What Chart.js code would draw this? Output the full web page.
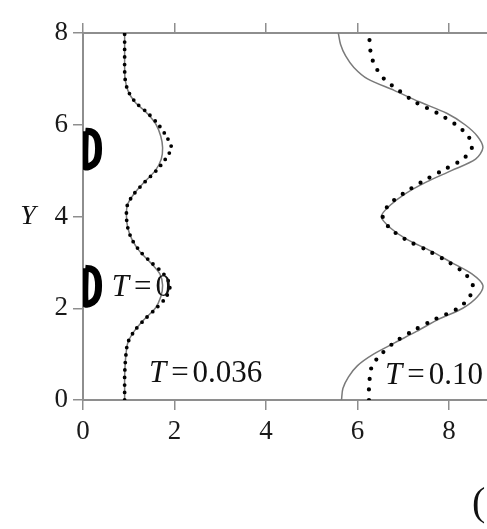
<!DOCTYPE html>
<html>
<head>
<meta charset="utf-8">
<script src="https://cdn.jsdelivr.net/npm/chart.js@4.4.0/dist/chart.umd.min.js"></script>
<style>
  html, body { margin: 0; padding: 0; background: #fff; }
  #wrap { width: 487px; height: 529px; }
</style>
</head>
<body>
<div id="wrap"><canvas id="profileChart" width="487" height="529"></canvas></div>
<script>
// Y levels shared by all four profiles
const yLevels = [0, 0.25, 0.5, 0.75, 1, 1.25, 1.5, 1.75, 2, 2.25, 2.5, 2.75, 3, 3.25, 3.5, 3.75,
                 4, 4.25, 4.5, 4.75, 5, 5.25, 5.5, 5.75, 6, 6.25, 6.5, 6.75, 7, 7.25, 7.5, 7.75, 8];

// T = 0.036 profile
const early_solid = [0.91, 0.91, 0.91, 0.92, 0.94, 0.98, 1.12, 1.33, 1.58, 1.70, 1.74, 1.68, 1.47, 1.23, 1.07, 0.98,
                     0.95, 0.97, 1.12, 1.34, 1.58, 1.71, 1.74, 1.70, 1.60, 1.40, 1.13, 0.98, 0.92, 0.91, 0.91, 0.91, 0.91];
const early_dots  = [0.91, 0.91, 0.91, 0.92, 0.94, 0.98, 1.12, 1.34, 1.60, 1.82, 1.90, 1.76, 1.49, 1.24, 1.07, 0.98,
                     0.95, 0.97, 1.12, 1.35, 1.60, 1.80, 1.93, 1.82, 1.65, 1.42, 1.14, 0.98, 0.92, 0.91, 0.91, 0.91, 0.91];

// T = 0.10 profile
const late_solid = [5.65, 5.68, 5.80, 6.00, 6.35, 6.82, 7.30, 7.75, 8.30, 8.62, 8.74, 8.50, 8.05, 7.60, 7.08, 6.72,
                    6.52, 6.72, 7.05, 7.50, 8.05, 8.58, 8.74, 8.62, 8.35, 7.95, 7.35, 6.80, 6.22, 5.92, 5.74, 5.63, 5.58];
const late_dots  = [6.25, 6.25, 6.27, 6.32, 6.52, 6.80, 7.20, 7.67, 8.20, 8.45, 8.52, 8.35, 8.00, 7.55, 7.05, 6.70,
                    6.55, 6.68, 7.00, 7.40, 7.85, 8.30, 8.50, 8.42, 8.15, 7.75, 7.25, 6.90, 6.58, 6.40, 6.30, 6.27, 6.25];

// half-disc outlines on the left wall
const discX  = [0.05, 0.16, 0.26, 0.32, 0.34, 0.32, 0.26, 0.16, 0.05, 0.05];
const discLo = [2.87, 2.86, 2.80, 2.68, 2.49, 2.30, 2.18, 2.11, 2.10, 2.87];
const discHi = [5.86, 5.85, 5.79, 5.67, 5.48, 5.29, 5.17, 5.10, 5.09, 5.86];

const xTicks = [0, 2, 4, 6, 8];
const yTicks = [0, 2, 4, 6, 8];

const labels = [
    { name: 'T', value: '0', x: 0.63, y: 2.44 },
    { name: 'T', value: '0.036', x: 1.44, y: 0.57 },
    { name: 'T', value: '0.10', x: 6.6, y: 0.52 }
];

const pairs = (xs, ys) => xs.map((x, i) => ({ x: x, y: ys[i] }));

const serif = '"Liberation Serif", "Times New Roman", Tinos, serif';
const axisGray = '#8e8e8e';

const annotate = {
    id: 'annotate',
    afterDatasetsDraw(chart) {
        const { ctx, scales: { x, y } } = chart;
        ctx.save();
        ctx.fillStyle = '#111';
        ctx.textBaseline = 'middle';
        ctx.textAlign = 'left';
        labels.forEach(l => {
            let px = x.getPixelForValue(l.x);
            const py = y.getPixelForValue(l.y);
            ctx.font = 'italic 31px ' + serif;
            ctx.fillText(l.name, px, py);
            px += ctx.measureText(l.name).width + 5;
            ctx.font = '31px ' + serif;
            ctx.fillText('=', px, py);
            px += ctx.measureText('=').width + 4;
            ctx.fillText(l.value, px, py);
        });
        // axis name
        ctx.font = 'italic 28px ' + serif;
        ctx.textAlign = 'center';
        ctx.fillText('Y', y.left + 28, y.getPixelForValue(4));
        // cut-off panel tag at lower right
        ctx.font = '40px ' + serif;
        ctx.textAlign = 'left';
        ctx.fillText('(', x.getPixelForValue(8.5), y.getPixelForValue(-2.27));
        ctx.restore();
    }
};

const ctx = document.getElementById('profileChart').getContext('2d');
new Chart(ctx, {
    type: 'scatter',
    data: {
        datasets: [
            // dotted ones first so they sit on top of the solid curves
            { data: pairs(early_dots, yLevels), showLine: true, pointRadius: 0, borderColor: '#000', borderWidth: 3.8, borderDash: [0, 7.5], borderCapStyle: 'round', tension: 0.3 },
            { data: pairs(late_dots, yLevels), showLine: true, pointRadius: 0, borderColor: '#000', borderWidth: 4.2, borderDash: [0, 10.5], borderCapStyle: 'round', tension: 0.3 },
            { data: pairs(early_solid, yLevels), showLine: true, pointRadius: 0, borderColor: '#7a7a7a', borderWidth: 1.5, tension: 0.3 },
            { data: pairs(late_solid, yLevels), showLine: true, pointRadius: 0, borderColor: '#7a7a7a', borderWidth: 1.5, tension: 0.3 },
            { data: pairs(discX, discLo), showLine: true, pointRadius: 0, borderColor: '#000', borderWidth: 7, tension: 0.3, clip: 0 },
            { data: pairs(discX, discHi), showLine: true, pointRadius: 0, borderColor: '#000', borderWidth: 7, tension: 0.3, clip: 0 }
        ]
    },
    options: {
        responsive: false,
        animation: false,
        layout: { padding: 0 },
        plugins: { legend: { display: false }, tooltip: { enabled: false } },
        scales: {
            x: {
                type: 'linear', position: 'bottom', min: 0, max: 8.83,
                afterBuildTicks: s => { s.ticks = xTicks.map(v => ({ value: v })); },
                afterFit: s => { s.height = 129; },
                border: { display: true, color: axisGray, width: 2 },
                grid: { drawOnChartArea: false, drawTicks: true, tickLength: 10, color: axisGray, lineWidth: 1.5 },
                ticks: { color: '#1a1a1a', font: { family: serif, size: 27 }, padding: 6, maxRotation: 0 }
            },
            x2: {
                type: 'linear', position: 'top', min: 0, max: 8.83,
                afterBuildTicks: s => { s.ticks = xTicks.map(v => ({ value: v })); },
                afterFit: s => { s.height = 33; },
                border: { display: true, color: axisGray, width: 2 },
                grid: { drawOnChartArea: false, drawTicks: true, tickLength: 10, color: axisGray, lineWidth: 1.5 },
                ticks: { display: false }
            },
            y: {
                type: 'linear', position: 'left', min: 0, max: 8,
                afterBuildTicks: s => { s.ticks = yTicks.map(v => ({ value: v })); },
                afterFit: s => { s.width = 83; },
                border: { display: true, color: axisGray, width: 2 },
                grid: { drawOnChartArea: false, drawTicks: true, tickLength: 10, color: axisGray, lineWidth: 1.5 },
                ticks: { color: '#1a1a1a', font: { family: serif, size: 27 }, padding: 5 }
            }
        }
    },
    plugins: [annotate]
});
</script>
</body>
</html>
